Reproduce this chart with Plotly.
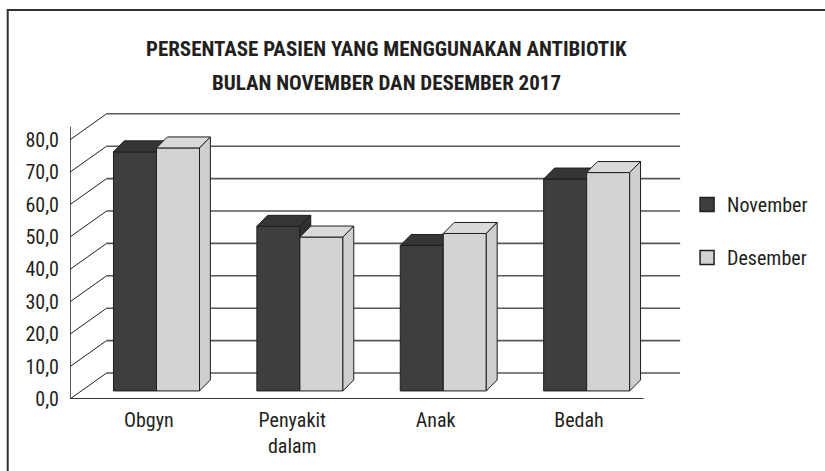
import plotly.graph_objects as go

# ---------------- data ----------------
categories = ["Obgyn", "Penyakit<br>dalam", "Anak", "Bedah"]
series_names = ["November", "Desember"]
november = [73.8, 50.8, 44.9, 65.4]
desember = [75.0, 47.5, 48.6, 67.4]
y_ticks = [0, 10, 20, 30, 40, 50, 60, 70, 80]
title_lines = ["PERSENTASE PASIEN YANG MENGGUNAKAN ANTIBIOTIK",
               "BULAN NOVEMBER DAN DESEMBER 2017"]

# ---------------- geometry / style ----------------
W, H = 825, 471
ML, MR, MT, MB = 70, 125, 105, 72
PW, PH = W - ML - MR, H - MT - MB
PX_X = 145.0            # px per category
PX_Y = 3.24             # px per value unit
X0 = -0.5
X_RANGE = [X0, X0 + PW / PX_X]
Y_RANGE = [0, PH / PX_Y]
WALL_DX, WALL_DY = 37 / PX_X, 26 / PX_Y
BAR_D0 = 0.31
BAR_SHIFT = 3.5 / PX_X
BAR_DX, BAR_DY = 11 / PX_X, 11 / PX_Y
BAR_W = 0.30
X_END = X0 + len(categories)

FONT = "Liberation Sans Narrow, Arial Narrow, Roboto Condensed, DejaVu Sans Condensed, sans-serif"
TXT = "#231f20"
OUT = "#1e1e1e"
colors = {
    "November": {"front": "#3e3e3e", "top": "#353535", "side": "#2f2f2f"},
    "Desember": {"front": "#d2d3d5", "top": "#d9dadc", "side": "#cdced0"},
}

fig = go.Figure()


def line_trace(xs, ys, color, width):
    fig.add_trace(go.Scatter(x=xs, y=ys, mode="lines", line=dict(color=color, width=width),
                             hoverinfo="skip", showlegend=False))


# back wall gridlines
gx, gy = [], []
for v in y_ticks:
    gx += [X0 + WALL_DX, X_END + WALL_DX, None]
    gy += [v + WALL_DY, v + WALL_DY, None]
line_trace(gx, gy, "#575757", 1.6)

# left wall diagonals
dx, dy = [], []
for v in y_ticks:
    dx += [X0, X0 + WALL_DX, None]
    dy += [v, v + WALL_DY, None]
line_trace(dx, dy, TXT, 1)

# front vertical axis and floor line
line_trace([X0, X0], [0, max(y_ticks) + 4], TXT, 1.5)
line_trace([X0, X_END], [0, 0], "#333333", 2)


def poly(xs, ys, fillcolor):
    fig.add_trace(go.Scatter(x=xs + [xs[0]], y=ys + [ys[0]], mode="lines", fill="toself",
                             fillcolor=fillcolor, line=dict(color=OUT, width=1),
                             hoverinfo="skip", showlegend=False))


base = BAR_D0 * WALL_DY
for i in range(len(categories)):
    c = i + BAR_D0 * WALL_DX + BAR_SHIFT
    for s, (name, vals) in enumerate(zip(series_names, [november, desember])):
        xl = c - BAR_W if s == 0 else c
        xr = xl + BAR_W
        top = base + vals[i]
        col = colors[name]
        poly([xl, xr, xr, xl], [base, base, top, top], col["front"])
        poly([xl, xr, xr + BAR_DX, xl + BAR_DX], [top, top, top + BAR_DY, top + BAR_DY], col["top"])
        poly([xr, xr, xr + BAR_DX, xr + BAR_DX], [base, top, top + BAR_DY, base + BAR_DY], col["side"])

# legend entries
for k, name in enumerate(series_names):
    fig.add_trace(go.Scatter(x=[None], y=[None], mode="markers", name=name, legendgroup=name,
                             marker=dict(symbol="square", size=14, color=colors[name]["front"],
                                         line=dict(color=OUT, width=1.5))))

# title
for k, t in enumerate(title_lines):
    fig.add_annotation(text="<b>" + t + "</b>", xref="paper", yref="paper",
                       x=(390 - ML) / PW, y=(H - MB - (49 + 34 * k)) / PH,
                       xanchor="center", yanchor="middle", showarrow=False,
                       font=dict(family=FONT, size=21, color=TXT))

# frame
fig.add_shape(type="rect", xref="paper", yref="paper",
              x0=(7 - ML) / PW, x1=(840 - ML) / PW,
              y0=(H - MB - 490) / PH, y1=(H - MB - 10) / PH,
              line=dict(color="#333333", width=2), fillcolor="rgba(0,0,0,0)", layer="below")

fig.update_layout(
    width=W, height=H,
    margin=dict(l=ML, r=MR, t=MT, b=MB),
    paper_bgcolor="white", plot_bgcolor="white",
    font=dict(family=FONT, size=20, color=TXT),
    showlegend=True,
    legend=dict(x=(694 - ML) / PW, y=(H - MB - 185) / PH, xanchor="left", yanchor="top",
                traceorder="grouped", tracegroupgap=24, font=dict(size=20, color=TXT),
                bgcolor="rgba(0,0,0,0)"),
    xaxis=dict(range=X_RANGE, tickvals=[i + 0.05 for i in range(len(categories))],
               ticktext=categories, showgrid=False, zeroline=False, showline=False,
               ticks="", ticklabelstandoff=7, tickfont=dict(size=20, color=TXT), fixedrange=True),
    yaxis=dict(range=Y_RANGE, tickvals=y_ticks,
               ticktext=[f"{v:.1f}".replace(".", ",") for v in y_ticks],
               showgrid=False, zeroline=False, showline=False, ticks="",
               ticklabelstandoff=10, tickfont=dict(size=20, color=TXT), fixedrange=True),
)

fig.write_html("out.html", config={"displayModeBar": False},
               post_script="document.body.style.margin='0';")
